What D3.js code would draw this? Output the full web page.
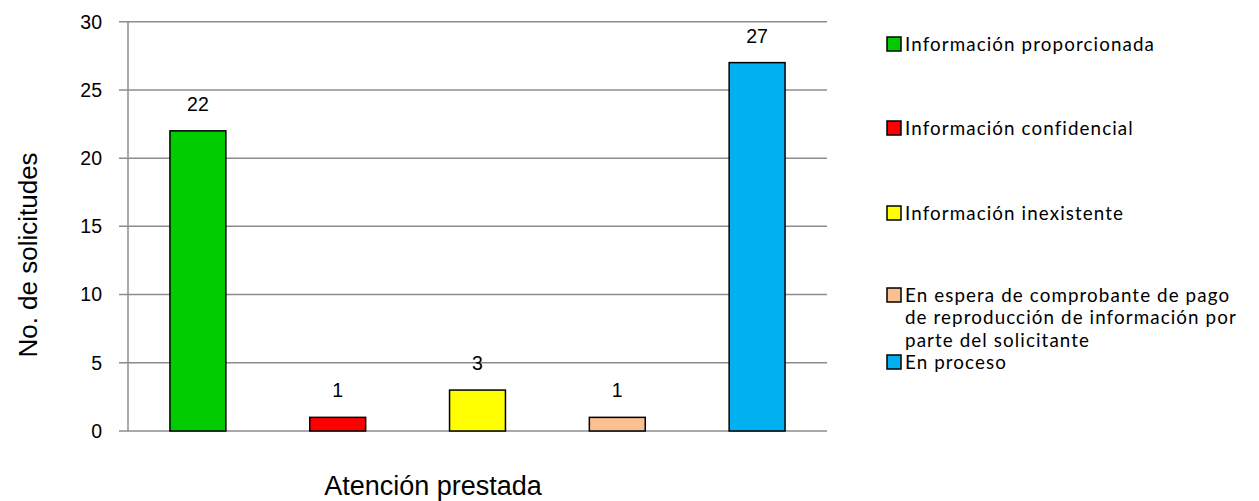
<!DOCTYPE html>
<html lang="es">
<head>
<meta charset="UTF-8">
<script src="https://d3js.org/d3.v7.min.js"></script>
<style>
  body { margin: 0; background: #fff; }
  text { fill: #000; }
</style>
</head>
<body>
<svg id="chart" width="1259" height="501"></svg>
<script>
  // data
  var categories = ["Información proporcionada", "Información confidencial", "Información inexistente",
    "En espera de comprobante de pago de reproducción de información por parte del solicitante", "En proceso"];
  var values = [22, 1, 3, 1, 27];
  var colors = ["#00cc00", "#ff0000", "#ffff00", "#fac090", "#00b0f0"];
  var yTicks = [0, 5, 10, 15, 20, 25, 30];
  // legend labels as they wrap in the picture
  var legendLines = [
    ["Información proporcionada"],
    ["Información confidencial"],
    ["Información inexistente"],
    ["En espera de comprobante de pago", "de reproducción de información por", "parte del solicitante"],
    ["En proceso"]
  ];

  var svg = d3.select("#chart");
  var plotLeft = 128, plotRight = 827, plotTop = 21.7, plotBottom = 431;

  var x = d3.scaleBand().domain(d3.range(values.length)).range([plotLeft, plotRight]).paddingInner(0.6).paddingOuter(0.3);
  var y = d3.scaleLinear().domain([0, 30]).range([plotBottom, plotTop]);

  // gridlines (with the small tick stubs left of the axis)
  svg.append("g").selectAll("line").data(yTicks).enter().append("line")
    .attr("x1", plotLeft - 9).attr("x2", plotRight)
    .attr("y1", d => y(d)).attr("y2", d => y(d))
    .attr("stroke", "#8c8c8c").attr("stroke-width", 1.5);

  // y axis line
  svg.append("line").attr("x1", plotLeft).attr("x2", plotLeft).attr("y1", plotTop).attr("y2", plotBottom)
    .attr("stroke", "#8c8c8c").attr("stroke-width", 1.5);

  // tick labels
  svg.append("g").selectAll("text").data(yTicks).enter().append("text")
    .attr("x", 102).attr("y", d => y(d)).attr("dy", "0.35em")
    .attr("text-anchor", "end")
    .style("font-family", "Liberation Sans, Arial, sans-serif").style("font-size", "19.5px")
    .text(d => d);

  // bars
  svg.append("g").selectAll("rect").data(values).enter().append("rect")
    .attr("x", (d, i) => x(i)).attr("width", x.bandwidth())
    .attr("y", d => y(d)).attr("height", d => y(0) - y(d))
    .attr("fill", (d, i) => colors[i])
    .attr("stroke", "#000").attr("stroke-width", 1.5);

  // data labels
  svg.append("g").selectAll("text").data(values).enter().append("text")
    .attr("x", (d, i) => x(i) + x.bandwidth() / 2).attr("y", d => y(d) - 20)
    .attr("text-anchor", "middle")
    .style("font-family", "Liberation Sans, Arial, sans-serif").style("font-size", "19.5px")
    .text(d => d);

  // axis titles
  svg.append("text").attr("x", 433).attr("y", 495).attr("text-anchor", "middle")
    .style("font-family", "Liberation Sans, Arial, sans-serif").style("font-size", "27px")
    .text("Atención prestada");
  svg.append("text").attr("transform", "translate(37,255) rotate(-90)").attr("text-anchor", "middle")
    .style("font-family", "Liberation Sans, Arial, sans-serif").style("font-size", "26px")
    .text("No. de solicitudes");

  // legend
  var legendY = [44, 128, 213, 295, 362];
  var lg = svg.append("g").selectAll("g").data(categories).enter().append("g")
    .attr("transform", (d, i) => "translate(887," + legendY[i] + ")");
  lg.append("rect").attr("x", 0).attr("y", -7).attr("width", 14).attr("height", 14)
    .attr("fill", (d, i) => colors[i]).attr("stroke", "#000").attr("stroke-width", 1.5);
  lg.append("text")
    .style("font-family", "Lato, sans-serif").style("font-size", "18.8px").style("letter-spacing", "1.1px")
    .selectAll("tspan").data((d, i) => legendLines[i]).enter().append("tspan")
    .attr("x", 18).attr("y", (d, j) => j * 22.6).attr("dy", "0.35em")
    .text(d => d);
</script>
</body>
</html>
